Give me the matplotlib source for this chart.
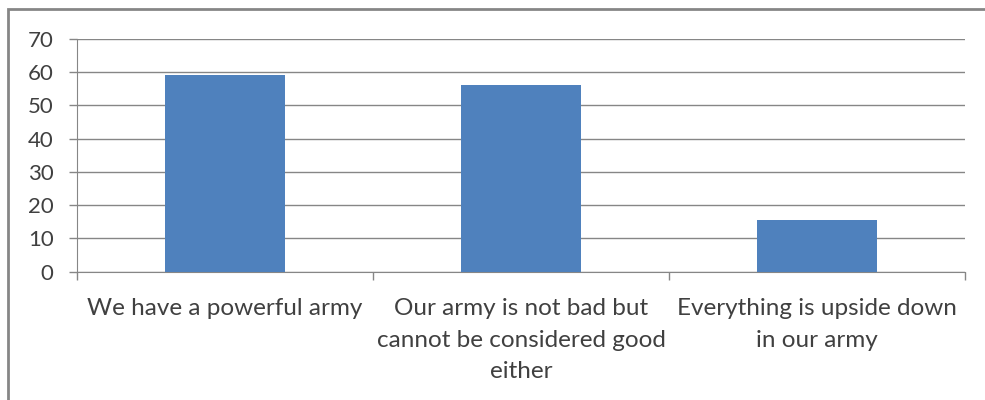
import matplotlib
matplotlib.use("Agg")
from matplotlib import pyplot as plt
from matplotlib.patches import Rectangle

# Data
categories = ["We have a powerful army",
              "Our army is not bad but\ncannot be considered good\neither",
              "Everything is upside down\nin our army"]
values = [59, 56, 15.5]
yticks = [0, 10, 20, 30, 40, 50, 60, 70]

plt.rcParams['font.family'] = ['Lato', 'DejaVu Sans']

fig = plt.figure(figsize=(9.85, 4.0), dpi=100)
ax = fig.add_axes([0.0782, 0.3208, 0.9015, 0.5825])

# Outer frame (left and top edges visible)
fig.patches.append(Rectangle((0.008, -0.1), 1.2, 1.078, transform=fig.transFigure,
                             fill=False, edgecolor='#868686', linewidth=2))

x = list(range(len(categories)))
ax.bar(x, values, width=0.405, color='#4F81BD', zorder=3)

ax.set_xlim(-0.5, len(categories) - 0.5)
ax.set_ylim(0, 70)
ax.set_yticks(yticks)
ax.set_yticklabels([str(t) for t in yticks], fontsize=16, color='#404040')
ax.yaxis.grid(True, color='#868686', linewidth=1)
ax.set_axisbelow(True)

# category boundary ticks
ax.set_xticks([i - 0.5 for i in range(len(categories) + 1)])
ax.set_xticklabels([])
ax.tick_params(axis='x', length=6, color='#868686', width=1)
ax.tick_params(axis='y', length=5.8, color='#868686', width=1, pad=11)
for i, c in enumerate(categories):
    ax.text(i, -0.115, c, transform=ax.get_xaxis_transform(), ha='center', va='top',
            fontsize=17.5, color='#404040', linespacing=1.6)

for s in ['top', 'right']:
    ax.spines[s].set_visible(False)
for s in ['left', 'bottom']:
    ax.spines[s].set_color('#868686')

fig.savefig('out.png', dpi=100)
